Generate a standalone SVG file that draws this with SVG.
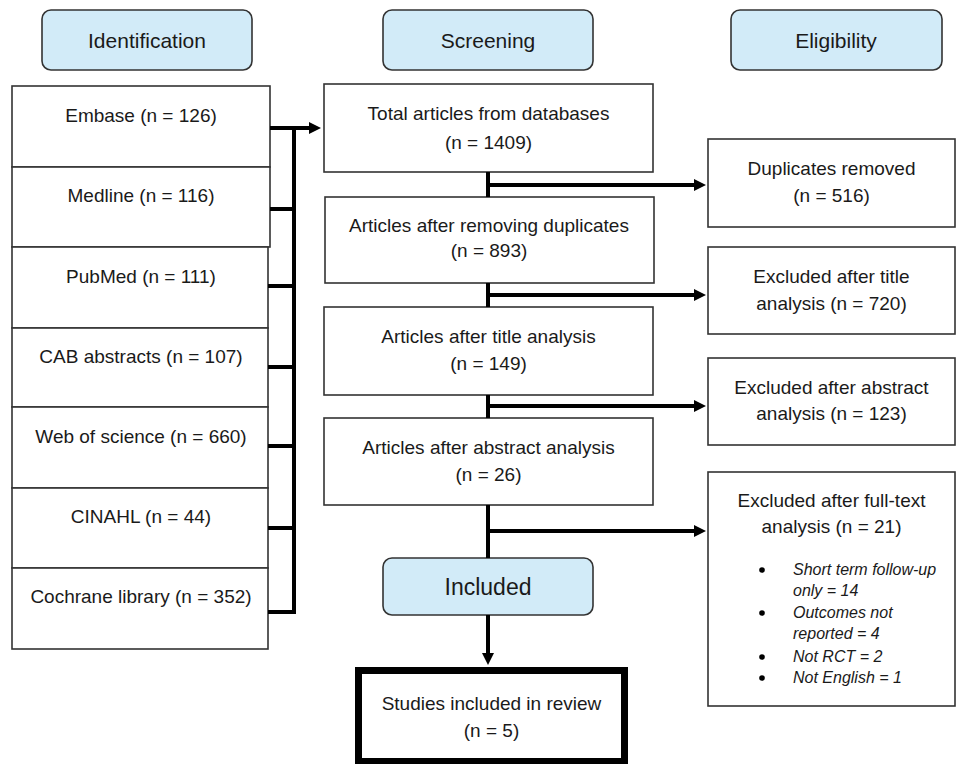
<svg xmlns="http://www.w3.org/2000/svg" width="958" height="764" viewBox="0 0 958 764">
<defs>
<style>
.box{fill:#fff;stroke:#333;stroke-width:1.6}
.hdr{fill:#d2ebf8;stroke:#333;stroke-width:1.6}
.t{font-family:"Liberation Sans",Arial,sans-serif;font-size:19px;fill:#1a1a1a;text-anchor:middle}
.h{font-size:21px}
.big{font-size:23px}
.it{font-family:"Liberation Sans",Arial,sans-serif;font-size:16px;font-style:italic;fill:#1a1a1a}
.dot{fill:#000}
.c{fill:none;stroke:#000;stroke-width:4}
</style>
<marker id="arr" viewBox="0 0 12 12" refX="2" refY="6" markerWidth="12" markerHeight="12" markerUnits="userSpaceOnUse" orient="auto">
<path d="M0,0 L12,6 L0,12 z" fill="#000"/>
</marker>
</defs>
<rect width="958" height="764" fill="#fff"/>

<g id="hdr-identification"><rect class="hdr" x="42" y="10" width="210" height="60" rx="9"/><text class="t h" x="147" y="47.5">Identification</text></g>
<g id="hdr-screening"><rect class="hdr" x="383" y="10" width="210" height="60" rx="9"/><text class="t h" x="488" y="47.5">Screening</text></g>
<g id="hdr-eligibility"><rect class="hdr" x="731" y="10" width="211" height="60" rx="9"/><text class="t h" x="836" y="47.5">Eligibility</text></g>

<g id="embase"><rect class="box" x="12" y="86" width="258" height="81"/><text class="t" x="141" y="121.5">Embase (n = 126)</text></g>
<g id="medline"><rect class="box" x="12" y="167" width="258" height="80"/><text class="t" x="141" y="201.5">Medline (n = 116)</text></g>
<g id="pubmed"><rect class="box" x="12" y="247" width="256" height="81"/><text class="t" x="141" y="283">PubMed (n = 111)</text></g>
<g id="cab"><rect class="box" x="12" y="328" width="256" height="79"/><text class="t" x="141" y="363">CAB abstracts (n = 107)</text></g>
<g id="wos"><rect class="box" x="12" y="407" width="256" height="81"/><text class="t" x="141" y="443">Web of science (n = 660)</text></g>
<g id="cinahl"><rect class="box" x="12" y="488" width="256" height="80"/><text class="t" x="141" y="523">CINAHL (n = 44)</text></g>
<g id="cochrane"><rect class="box" x="12" y="568" width="256" height="81"/><text class="t" x="141" y="603">Cochrane library (n = 352)</text></g>

<g id="total"><rect class="box" x="324" y="84" width="329" height="88"/><text class="t" x="488.5" y="119.5">Total articles from databases</text><text class="t" x="488.5" y="148.5">(n = 1409)</text></g>
<g id="after-dup"><rect class="box" x="325" y="197" width="329" height="86"/><text class="t" x="489" y="231.5">Articles after removing duplicates</text><text class="t" x="489" y="256.5">(n = 893)</text></g>
<g id="after-title"><rect class="box" x="324" y="307" width="329" height="88"/><text class="t" x="488.5" y="342.5">Articles after title analysis</text><text class="t" x="488.5" y="369.5">(n = 149)</text></g>
<g id="after-abstract"><rect class="box" x="324" y="418" width="329" height="87"/><text class="t" x="488.5" y="453.5">Articles after abstract analysis</text><text class="t" x="488.5" y="480.5">(n = 26)</text></g>
<g id="hdr-included"><rect class="hdr" x="383" y="558" width="210" height="57" rx="9"/><text class="t big" x="488" y="595">Included</text></g>
<g id="studies"><rect x="358.5" y="670.5" width="266" height="91" fill="#fff" stroke="#000" stroke-width="7"/><text class="t" x="491.5" y="709.5">Studies included in review</text><text class="t" x="491.5" y="736.5">(n = 5)</text></g>

<g id="duplicates"><rect class="box" x="708" y="139" width="247" height="88"/><text class="t" x="831.5" y="174.5">Duplicates removed</text><text class="t" x="831.5" y="201.5">(n = 516)</text></g>
<g id="excl-title"><rect class="box" x="708" y="247" width="247" height="87"/><text class="t" x="831.5" y="282.5">Excluded after title</text><text class="t" x="831.5" y="309.5">analysis (n = 720)</text></g>
<g id="excl-abstract"><rect class="box" x="708" y="358" width="247" height="87"/><text class="t" x="831.5" y="393.5">Excluded after abstract</text><text class="t" x="831.5" y="419.5">analysis (n = 123)</text></g>
<g id="excl-fulltext"><rect class="box" x="708" y="472" width="247" height="234"/><text class="t" x="831.5" y="506.5">Excluded after full-text</text><text class="t" x="831.5" y="532.5">analysis (n = 21)</text>
<circle class="dot" cx="762" cy="570" r="2.8"/><text class="it" x="793" y="575">Short term follow-up</text>
<text class="it" x="793" y="596">only = 14</text>
<circle class="dot" cx="762" cy="613" r="2.8"/><text class="it" x="793" y="618">Outcomes not</text>
<text class="it" x="793" y="639">reported = 4</text>
<circle class="dot" cx="762" cy="657" r="2.8"/><text class="it" x="793" y="662">Not RCT = 2</text>
<circle class="dot" cx="762" cy="678" r="2.8"/><text class="it" x="793" y="683">Not English = 1</text>
</g>

<g id="connectors">
<line class="c" x1="294" y1="126" x2="294" y2="614"/>
<line class="c" x1="270" y1="128" x2="311" y2="128" marker-end="url(#arr)"/>
<line class="c" x1="270" y1="209" x2="296" y2="209"/>
<line class="c" x1="268" y1="286" x2="296" y2="286"/>
<line class="c" x1="268" y1="367" x2="296" y2="367"/>
<line class="c" x1="268" y1="446" x2="296" y2="446"/>
<line class="c" x1="268" y1="528" x2="296" y2="528"/>
<line class="c" x1="268" y1="612" x2="296" y2="612"/>
<line class="c" x1="488" y1="172" x2="488" y2="197"/>
<line class="c" x1="488" y1="185" x2="696" y2="185" marker-end="url(#arr)"/>
<line class="c" x1="488" y1="283" x2="488" y2="307"/>
<line class="c" x1="488" y1="295" x2="696" y2="295" marker-end="url(#arr)"/>
<line class="c" x1="488" y1="395" x2="488" y2="418"/>
<line class="c" x1="488" y1="406" x2="696" y2="406" marker-end="url(#arr)"/>
<line class="c" x1="488" y1="505" x2="488" y2="558"/>
<line class="c" x1="488" y1="531" x2="696" y2="531" marker-end="url(#arr)"/>
<line class="c" x1="488" y1="615" x2="488" y2="655" marker-end="url(#arr)"/>
</g>
</svg>
